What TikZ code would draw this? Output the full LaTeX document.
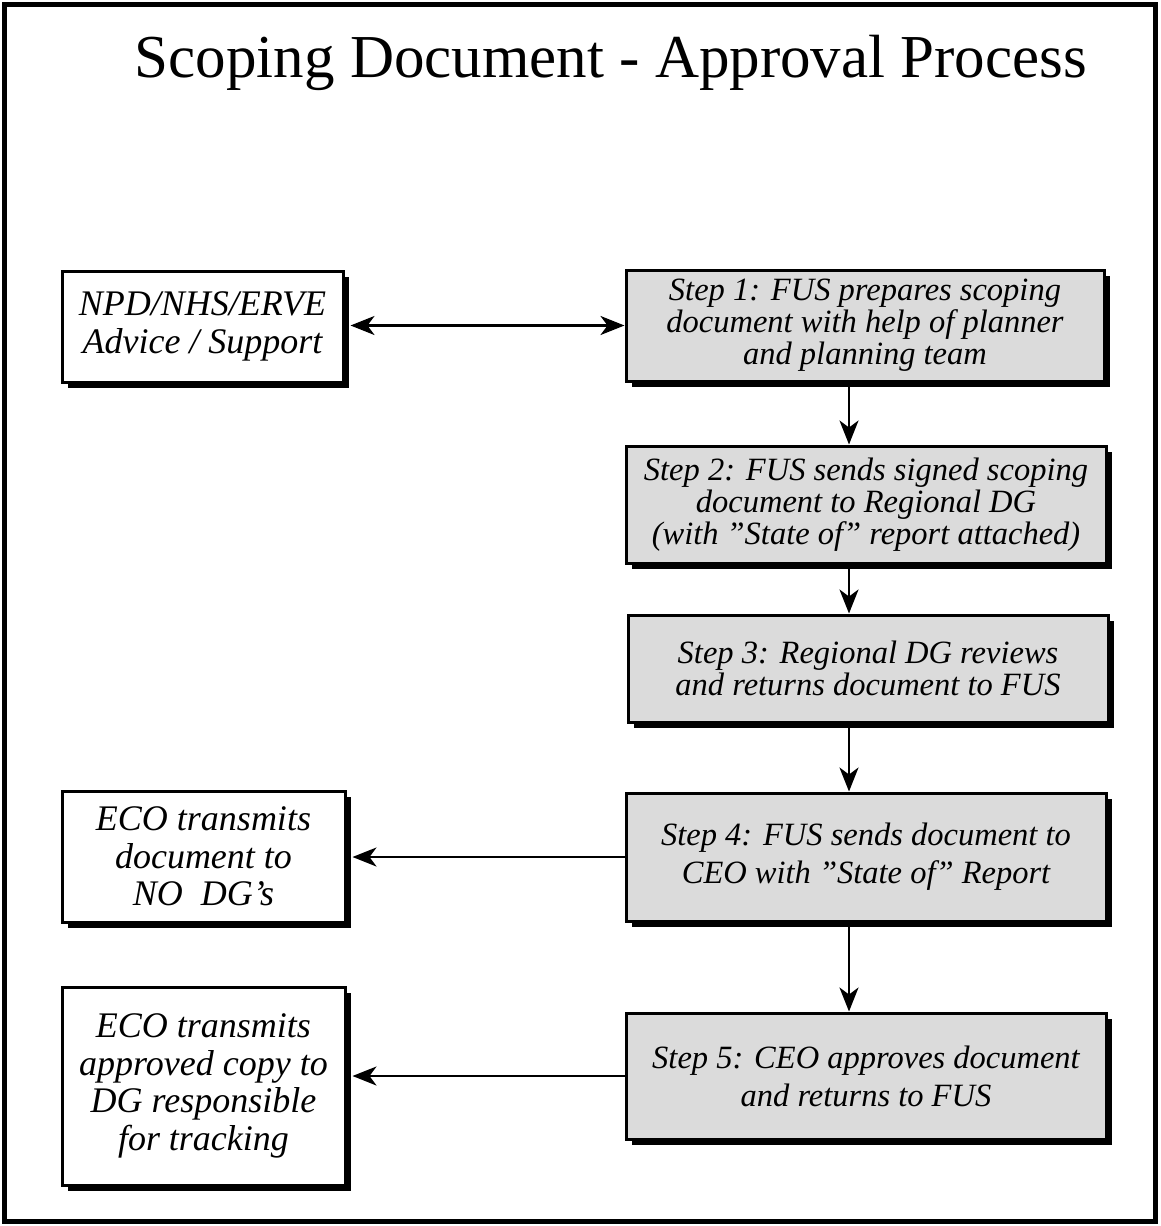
\documentclass[tikz,border=0pt]{standalone}
\usepackage{fontspec}
\setmainfont{Liberation Serif}
\usetikzlibrary{arrows.meta,shadows}

\tikzset{
  box/.style={draw=black, line width=3pt, align=center, inner sep=0pt,
    drop shadow={shadow xshift=6pt, shadow yshift=-6pt, fill=black, opacity=1}},
  stepbox/.style={box, fill=black!14,
    font=\fontsize{32.5}{32}\selectfont\itshape},
  sidebox/.style={box, fill=white,
    font=\fontsize{36}{37.5}\selectfont\itshape},
  link/.style={line width=2.2pt, -{Stealth[length=24pt,width=19pt,inset=7pt]}},
  twoway/.style={line width=2.2pt, {Stealth[length=24pt,width=19pt,inset=7pt]}-{Stealth[length=24pt,width=19pt,inset=7pt]}},
}

\begin{document}
\begin{tikzpicture}[x=1pt,y=-1pt]
  % page frame
  \useasboundingbox (0,0) rectangle (1160,1226);
  \draw[line width=5pt] (4.5,4.5) rectangle (1155.5,1221.5);

  % heading
  \node[font=\fontsize{61}{66}\selectfont] (title) at (611,63) {Scoping Document - Approval Process};

  % process steps
  \node[stepbox, minimum width=478pt, minimum height=111pt] (s1) at (865,325.5)
    {Step 1: FUS prepares scoping\\document with help of planner\\and planning team};
  \node[stepbox, minimum width=480pt, minimum height=117pt] (s2) at (866,504.5)
    {Step 2: FUS sends signed scoping\\document to Regional DG\\(with ”State of” report attached)};
  \node[stepbox, minimum width=480pt, minimum height=107pt] (s3) at (868,668.5)
    {Step 3: Regional DG reviews\\and returns document to FUS};
  \node[stepbox, minimum width=480pt, minimum height=128pt] (s4) at (866,857)
    {Step 4: FUS sends document to\\[6pt]CEO with ”State of” Report};
  \node[stepbox, minimum width=480pt, minimum height=126pt] (s5) at (866,1076)
    {Step 5: CEO approves document\\[6pt]and returns to FUS};

  % side boxes
  \node[sidebox, minimum width=281pt, minimum height=111pt] (npd) at (202.5,326.5)
    {NPD/NHS/ERVE\\Advice / Support};
  \node[sidebox, minimum width=283pt, minimum height=131pt] (eco1) at (203.5,856.5)
    {ECO transmits\\document to\\NO\ \ DG’s};
  \node[sidebox, minimum width=283pt, minimum height=198pt] (eco2) at (203.5,1086)
    {ECO transmits\\approved copy to\\DG responsible\\for tracking};

  % connectors
  \coordinate (spine) at (849,0);
  \draw[twoway] ([xshift=6pt]npd.east |- s1.west) -- (s1.west);
  \draw[link] (s1.south -| spine) -- (s2.north -| spine);
  \draw[link] (s2.south -| spine) -- (s3.north -| spine);
  \draw[link] (s3.south -| spine) -- (s4.north -| spine);
  \draw[link] (s4.south -| spine) -- (s5.north -| spine);
  \draw[link] (s4.west) -- ([xshift=6pt]eco1.east |- s4.west);
  \draw[link] (s5.west) -- ([xshift=6pt]eco2.east |- s5.west);
\end{tikzpicture}
\end{document}
